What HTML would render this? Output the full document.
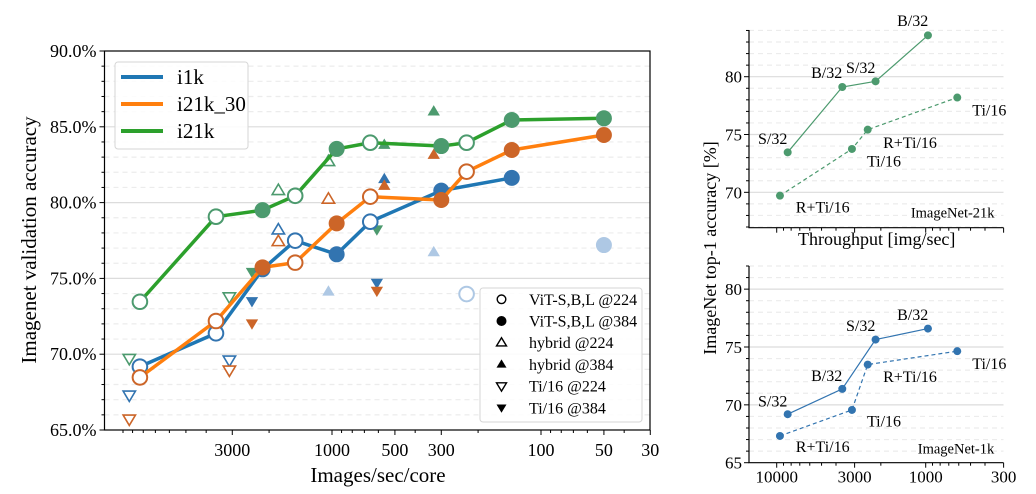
<!DOCTYPE html>
<html><head><meta charset="utf-8">
<style>
html,body{margin:0;padding:0;background:#fff;}
svg{display:block;font-family:"Liberation Serif",serif;}
</style></head>
<body>
<svg id="fig" width="1036" height="494" viewBox="0 0 1036 494" xmlns="http://www.w3.org/2000/svg">
<g id="main"></g>
<g id="top"></g>
<g id="bot"></g>
</svg>
<script>
// ---------- main chart data ----------
const lineX = [8300, 3590, 2150, 1500, 950, 656, 300, 227, 138, 50];
const i21kY = [73.46, 79.07, 79.5, 80.45, 83.54, 83.95, 83.73, 83.95, 85.45, 85.56];
const i21k30Y = [68.47, 72.19, 75.73, 76.04, 78.63, 80.39, 80.17, 82.04, 83.47, 84.46];
const i1kX = [8300, 3590, 2150, 1500, 950, 656, 300, 138];
const i1kY = [69.18, 71.38, 75.6, 77.49, 76.59, 78.74, 80.79, 81.63];
const lineFilled = [false, false, true, false, true, false, true, false, true, true];
const i1kFilled = [false, false, true, false, true, false, true, true];
const fadedCircleX = [227, 50];
const fadedCircleY = [73.97, 77.2];
const fadedCircleFilled = [false, true];
const fadedTriX = [1040, 326];
const fadedTriY = [74.12, 76.72];
// hybrid @224 (open up)
const hyb224X = [1806, 1040, 1806, 1806, 1040];
const hyb224Y = [80.79, 82.7, 78.19, 77.42, 80.22];
const hyb224S = ['g', 'g', 'b', 'o', 'o'];
// hybrid @384 (filled up)
const hyb384X = [562, 326, 562, 562, 326];
const hyb384Y = [83.8, 86.0, 81.54, 81.1, 83.14];
const hyb384S = ['g', 'g', 'b', 'o', 'o'];
// Ti/16 @224 (open down)
const ti224X = [9330, 3097, 9330, 3097, 9330, 3097];
const ti224Y = [69.73, 73.79, 67.31, 69.62, 65.73, 68.96];
const ti224S = ['g', 'g', 'b', 'b', 'o', 'o'];
// Ti/16 @384 (filled down)
const ti384X = [2415, 610, 2415, 610, 2415, 610];
const ti384Y = [75.44, 78.24, 73.51, 74.72, 72.04, 74.19];
const ti384S = ['g', 'g', 'b', 'b', 'o', 'o'];
const mainYTicks = [65, 70, 75, 80, 85, 90];
const mainXTicks = [3000, 1000, 500, 300, 100, 50, 30];

// ---------- side charts data ----------
const sideSolidX = [8440, 3630, 2170, 966];
const sideDashX = [9510, 3126, 2450, 614];
const top21kSolid = [73.46, 79.11, 79.6, 83.58];
const top21kDash = [69.71, 73.75, 75.42, 78.2];
const bot1kSolid = [69.19, 71.38, 75.64, 76.59];
const bot1kDash = [67.31, 69.56, 73.48, 74.64];
const sideXTicks = [10000, 3000, 1000, 300];
const topYTicks = [70, 75, 80];
const botYTicks = [65, 70, 75, 80];

const NS = "http://www.w3.org/2000/svg";
function mk(parent, tag, attrs, text) {
  const e = document.createElementNS(NS, tag);
  for (const k in attrs) e.setAttribute(k, attrs[k]);
  if (text !== undefined) e.textContent = text;
  parent.appendChild(e);
  return e;
}
const COL = {b: '#3274b0', o: '#cc6528', g: '#4c9a6e'};
const LINE = {b: '#1f77b4', o: '#ff7f0e', g: '#2ca02c'};
const FADED = '#aec8e4';

// ---------- main ----------
const M = document.getElementById('main');
const L = 104.5, R = 650, T = 51, B = 430;
const xm = v => 332 + (3 - Math.log10(v)) * 209;
const ym = v => B - (v - 65) * (B - T) / 25;

// gridlines
for (let v = 66; v < 90; v++) {
  const g = mk(M, 'line', {x1: L, x2: R, y1: ym(v), y2: ym(v), stroke: v % 5 === 0 ? '#dcdcdc' : '#ececec', 'stroke-width': 1.2, 'stroke-dasharray': v % 5 === 0 ? 'none' : '5,4'});
  
  
}
// minor y ticks
for (let v = 65; v <= 90; v++) {
  const major = v % 5 === 0;
  const t = mk(M, 'line', {x1: L - (major ? 5 : 3), x2: L, y1: ym(v), y2: ym(v), stroke: '#000', 'stroke-width': 1});
  
  
}
mainYTicks.forEach(v => {
  const t = mk(M, 'text', {x: L - 8, y: ym(v) + 6, 'text-anchor': 'end', 'font-size': 18}, v.toFixed(1) + '%');
  
  
});
// x minor ticks
const minors = [];
for (let d = 10; d <= 10000; d *= 10) for (let k = 1; k <= 9; k++) minors.push(k * d);
minors.forEach(v => {
  const x = xm(v);
  if (x < L || x > R + 0.5) return;
  const major = mainXTicks.indexOf(v) >= 0;
  const t = mk(M, 'line', {x1: x, x2: x, y1: B, y2: B + (major ? 5 : 3), stroke: '#000', 'stroke-width': 1});
  
  
});
mainXTicks.forEach(v => {
  const t = mk(M, 'text', {x: xm(v), y: B + 26, 'text-anchor': 'middle', 'font-size': 18}, String(v));
  
  
});
const xt = mk(M, 'text', {x: 378, y: 482, 'text-anchor': 'middle', 'font-size': 21}, 'Images/sec/core');


const yt = mk(M, 'text', {x: 0, y: 0, 'text-anchor': 'middle', 'font-size': 21, transform: 'translate(36,240) rotate(-90)'}, 'Imagenet validation accuracy');



function circle(p, x, y, col, filled, name) {
  const c = mk(p, 'circle', {cx: x, cy: y, r: filled ? 8 : 7.3, fill: filled ? col : '#fff', stroke: col, 'stroke-width': filled ? 0 : 2});
  
  
}
function tri(p, x, y, col, filled, up, name) {
  const s = 6.5, d = up ? -1 : 1;
  const pts = [[x, y + d * s], [x - s * 0.95, y - d * s * 0.6], [x + s * 0.95, y - d * s * 0.6]].map(q => q.join(',')).join(' ');
  const t = mk(p, 'polygon', {points: pts, fill: filled ? col : '#fff', stroke: col, 'stroke-width': filled ? 0 : 1.6});
  
  
}

// faded markers
fadedTriX.forEach((v, i) => tri(M, xm(v), ym(fadedTriY[i]), FADED, true, true, 'faded-hybrid-marker'));
fadedCircleX.forEach((v, i) => circle(M, xm(v), ym(fadedCircleY[i]), FADED, fadedCircleFilled[i], 'faded-vit-marker'));
// triangles
hyb224X.forEach((v, i) => tri(M, xm(v), ym(hyb224Y[i]), COL[hyb224S[i]], false, true, 'hybrid-224-marker'));
hyb384X.forEach((v, i) => tri(M, xm(v), ym(hyb384Y[i]), COL[hyb384S[i]], true, true, 'hybrid-384-marker'));
ti224X.forEach((v, i) => tri(M, xm(v), ym(ti224Y[i]), COL[ti224S[i]], false, false, 'ti16-224-marker'));
ti384X.forEach((v, i) => tri(M, xm(v), ym(ti384Y[i]), COL[ti384S[i]], true, false, 'ti16-384-marker'));

function series(xs, ys, filled, key, name) {
  const pl = mk(M, 'polyline', {points: xs.map((v, i) => xm(v) + ',' + ym(ys[i])).join(' '), fill: 'none', stroke: LINE[key], 'stroke-width': 3.5, 'stroke-linejoin': 'round'});
  
  
  xs.forEach((v, i) => circle(M, xm(v), ym(ys[i]), COL[key], filled[i], name + '-point'));
}
series(lineX, i21kY, lineFilled, 'g', 'i21k');
series(i1kX, i1kY, i1kFilled, 'b', 'i1k');
series(lineX, i21k30Y, lineFilled, 'o', 'i21k-30');

// frame
const fr = mk(M, 'rect', {x: L, y: T, width: R - L, height: B - T, fill: 'none', stroke: '#000', 'stroke-width': 1.2});



// legend 1
const lg = mk(M, 'g', {});


mk(lg, 'rect', {x: 115, y: 62, width: 133, height: 87, rx: 3, fill: '#fff', 'fill-opacity': 0.85, stroke: '#d6d6d6'});
[['i1k', 'b', 77], ['i21k_30', 'o', 104], ['i21k', 'g', 131]].forEach(e => {
  const g = mk(lg, 'g', {});
  
  
  mk(g, 'line', {x1: 121, x2: 163, y1: e[2], y2: e[2], stroke: LINE[e[1]], 'stroke-width': 4});
  mk(g, 'text', {x: 177, y: e[2] + 7, 'font-size': 21}, e[0]);
});
// legend 2
const lg2 = mk(M, 'g', {});


mk(lg2, 'rect', {x: 480, y: 288, width: 162, height: 134, rx: 3, fill: '#fff', 'fill-opacity': 0.85, stroke: '#d6d6d6'});
const lgItems = [['ViT-S,B,L @224', 'c', false], ['ViT-S,B,L @384', 'c', true], ['hybrid @224', 'u', false], ['hybrid @384', 'u', true], ['Ti/16 @224', 'd', false], ['Ti/16 @384', 'd', true]];
lgItems.forEach((e, i) => {
  const y = 299.3 + i * 21.7;
  const g = mk(lg2, 'g', {});
  
  
  if (e[1] === 'c') mk(g, 'circle', {cx: 501.5, cy: y, r: e[2] ? 5 : 4.3, fill: e[2] ? '#000' : '#fff', stroke: '#000', 'stroke-width': e[2] ? 0 : 1.4});
  else {
    const d = e[1] === 'u' ? -1 : 1, s = 5, x = 501.5;
    mk(g, 'polygon', {points: `${x},${y + d * s} ${x - s},${y - d * s * 0.65} ${x + s},${y - d * s * 0.65}`, fill: e[2] ? '#000' : '#fff', stroke: '#000', 'stroke-width': e[2] ? 0 : 1.4});
  }
  mk(g, 'text', {x: 529, y: y + 5.5, 'font-size': 16}, e[0]);
});

// ---------- side charts ----------
const SL = 749, SR = 1003.5;
const xs2 = v => 925.7 + (3 - Math.log10(v)) * 149;
function side(G, top, bottom, vmin, vmax, ticks, solid, dash, col, labels, corner, showXLabels) {
  const ys = v => bottom - (v - vmin) * (bottom - top) / (vmax - vmin);
  for (let v = Math.ceil(vmin); v <= Math.floor(vmax); v++) {
    if (v > vmin) {
      const gl = mk(G, 'line', {x1: SL, x2: SR, y1: ys(v), y2: ys(v), stroke: v % 5 === 0 ? '#dcdcdc' : '#ececec', 'stroke-width': 1.2, 'stroke-dasharray': v % 5 === 0 ? 'none' : '5,4'});
      
      
    }
    const tk = mk(G, 'line', {x1: SL - (v % 5 === 0 ? 5 : 3), x2: SL, y1: ys(v), y2: ys(v), stroke: '#000'});
    
    
  }
  ticks.forEach(v => {
    const t = mk(G, 'text', {x: SL - 7, y: ys(v) + 6, 'text-anchor': 'end', 'font-size': 17}, String(v));
    
    
  });
  minors.forEach(v => {
    const x = xs2(v);
    if (x < SL || x > SR + 0.5) return;
    const major = sideXTicks.indexOf(v) >= 0;
    const t = mk(G, 'line', {x1: x, x2: x, y1: bottom, y2: bottom + (major ? 5 : 3), stroke: '#000'});
    
    
  });
  if (showXLabels) sideXTicks.forEach(v => {
    const t = mk(G, 'text', {x: xs2(v), y: bottom + 20, 'text-anchor': 'middle', 'font-size': 17}, String(v));
    
    
  });
  const ax = mk(G, 'path', {d: `M${SL},${top} V${bottom} H${SR}`, fill: 'none', stroke: '#000', 'stroke-width': 1.2});
  
  
  const l1 = mk(G, 'polyline', {points: sideSolidX.map((v, i) => xs2(v) + ',' + ys(solid[i])).join(' '), fill: 'none', stroke: col, 'stroke-width': 1.2});
  
  
  const l2 = mk(G, 'polyline', {points: sideDashX.map((v, i) => xs2(v) + ',' + ys(dash[i])).join(' '), fill: 'none', stroke: col, 'stroke-width': 1.2, 'stroke-dasharray': '4,3'});
  
  
  sideSolidX.forEach((v, i) => {
    const c = mk(G, 'circle', {cx: xs2(v), cy: ys(solid[i]), r: 4, fill: col});
    
    
  });
  sideDashX.forEach((v, i) => {
    const c = mk(G, 'circle', {cx: xs2(v), cy: ys(dash[i]), r: 4, fill: col});
    
    
  });
  labels.forEach(l => {
    const t = mk(G, 'text', {x: l[1], y: l[2] + 5.5, 'text-anchor': 'middle', 'font-size': 16}, l[0]);
    
    
  });
  const c = mk(G, 'text', {x: corner[1], y: corner[2] + 5, 'text-anchor': 'middle', 'font-size': 14.5}, corner[0]);
  
  
}
side(document.getElementById('top'), 30, 227.7, 66.94, 84.04, topYTicks, top21kSolid, top21kDash, '#4c9a6e',
  [['B/32', 912.7, 20.7], ['B/32', 826.7, 72.3], ['S/32', 860.7, 67.7], ['S/32', 772.7, 138.7], ['Ti/16', 989.3, 110], ['R+Ti/16', 910, 142.3], ['Ti/16', 884, 161], ['R+Ti/16', 822.7, 207]],
  ['ImageNet-21k', 952.7, 212.3], false);
side(document.getElementById('bot'), 266, 462.7, 65, 82, botYTicks, bot1kSolid, bot1kDash, '#3274b0',
  [['B/32', 912.7, 314.3], ['S/32', 860.7, 325.7], ['B/32', 826.7, 375.7], ['S/32', 772.7, 401], ['Ti/16', 989.3, 363.3], ['R+Ti/16', 910, 376.7], ['Ti/16', 884, 421], ['R+Ti/16', 822.7, 446.7]],
  ['ImageNet-1k', 956, 448.3], true);
const S = document.getElementById('fig');
const tx = mk(S, 'text', {x: 876.7, y: 245, 'text-anchor': 'middle', 'font-size': 18}, 'Throughput [img/sec]');


const ty = mk(S, 'text', {x: 0, y: 0, 'text-anchor': 'middle', 'font-size': 18, transform: 'translate(716,248) rotate(-90)'}, 'ImageNet top-1 accuracy [%]');


</script>
</body></html>
